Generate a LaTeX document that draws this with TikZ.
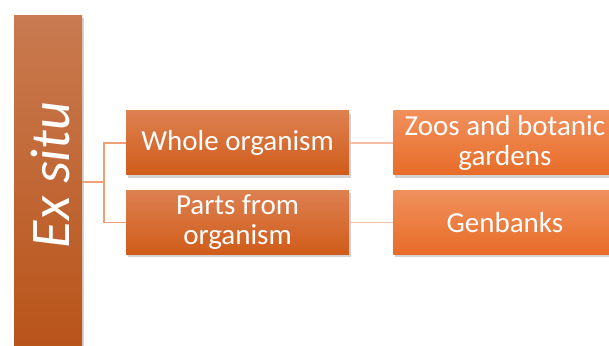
\documentclass[tikz,border=0pt]{standalone}
\usepackage{fontspec}
\setmainfont{Carlito}
\usepackage{tikz}
\usetikzlibrary{positioning,shadows}

\definecolor{bartop}{RGB}{201,122,80}
\definecolor{barbot}{RGB}{185,84,26}
\definecolor{midtop}{RGB}{221,128,80}
\definecolor{midbot}{RGB}{208,92,26}
\definecolor{endtop}{RGB}{240,144,92}
\definecolor{endbot}{RGB}{232,108,40}
\definecolor{linkA}{RGB}{240,160,118}
\definecolor{linkB}{RGB}{245,190,165}

\tikzset{
  midbox/.style={minimum width=223pt,minimum height=64pt,inner sep=0pt,
    top color=midtop,bottom color=midbot,text=white,align=center,
    font=\fontsize{29}{30}\selectfont,
    drop shadow={shadow xshift=2pt,shadow yshift=-3pt,opacity=0.35}},
  endbox/.style={midbox,top color=endtop,bottom color=endbot},
  link/.style={linkA,line width=1.6pt},
  farlink/.style={linkB,line width=1.6pt}
}

\begin{document}
\begin{tikzpicture}[x=1pt,y=1pt]
              \useasboundingbox (0,0) rectangle (609,345);
              \clip (0,0) rectangle (609,345);

              \node[minimum width=68pt,minimum height=332pt,inner sep=0pt,
                top color=bartop,bottom color=barbot,
                drop shadow={shadow xshift=2pt,shadow yshift=-2pt,opacity=0.35}]
                (bar) at (48,163) {};
              \node[text=white,rotate=90,font=\fontsize{56}{58}\selectfont\itshape]
                (title) at (50,170) {Ex situ};

              \node[midbox] (whole) at (237.5,202) {Whole organism};
              \node[midbox,below=15pt of whole] (parts) {Parts from\\organism};
              \node[endbox,right=44pt of whole] (zoos) {Zoos and botanic\\gardens};
              \node[endbox,right=44pt of parts] (gen) {Genbanks};

              %bar>middle
              \draw[link] (bar.east |- 0,163) -- ++(22pt,0) |- (whole.west);
              \draw[link] (bar.east |- 0,163) -- ++(22pt,0) |- (parts.west);

              %middle>end
              \draw[farlink] (whole.east) -- (zoos.west);
              \draw[farlink] (parts.east) -- (gen.west);
            \end{tikzpicture}
\end{document}
